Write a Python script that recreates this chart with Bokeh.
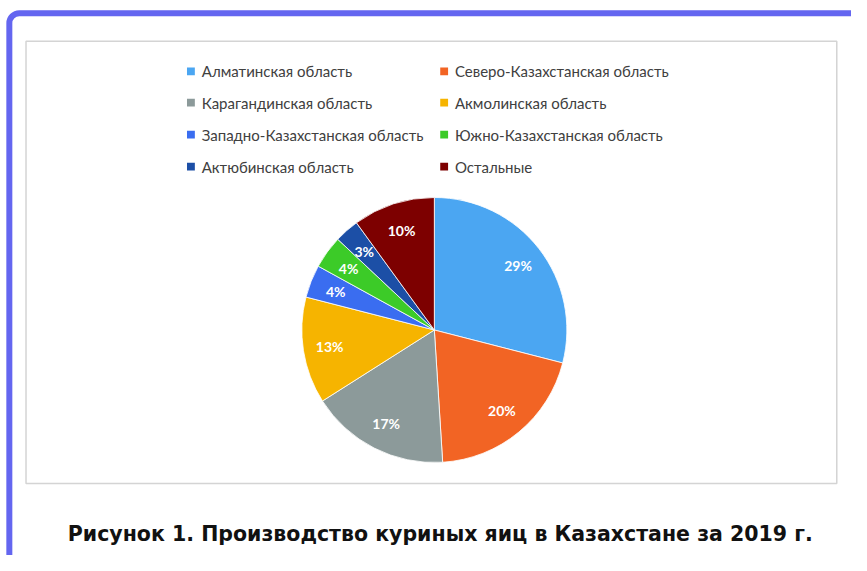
import numpy as np
from bokeh.plotting import figure
from bokeh.models import Range1d, ColumnDataSource, BoxAnnotation
from bokeh.embed import file_html
from bokeh.resources import INLINE
from bokeh.core.properties import value

categories = [
    "Алматинская область",
    "Северо-Казахстанская область",
    "Карагандинская область",
    "Акмолинская область",
    "Западно-Казахстанская область",
    "Южно-Казахстанская область",
    "Актюбинская область",
    "Остальные",
]
shares = [29, 20, 17, 13, 4, 4, 3, 10]
colors = ["#4BA6F2", "#F26424", "#8C9A9A", "#F6B400",
          "#3A6DF0", "#3CCB28", "#1C4FA6", "#7D0000"]
title = "Рисунок 1. Производство куриных яиц в Казахстане за 2019 г."

W, H = 851, 555          # figure size (fits window with 8px margin)
REF_W, REF_H = 867, 571  # layout coordinates


def Y(y):
    return REF_H - y


p = figure(width=W, height=H, x_range=Range1d(0, REF_W), y_range=Range1d(0, REF_H),
           output_backend="svg", toolbar_location=None, x_axis_type=None, y_axis_type=None,
           min_border=0, outline_line_color=None,
           background_fill_color="white", border_fill_color="white")
p.grid.visible = False

# outer blue frame (rounded)
p.add_layout(BoxAnnotation(left=9, right=1000, top=Y(13), bottom=-200,
                           fill_alpha=0, line_color="#6466F0", line_alpha=1, line_width=6,
                           border_radius=10, level="underlay"))
# inner chart box
p.add_layout(BoxAnnotation(left=26, right=852, top=Y(42), bottom=Y(497),
                           fill_color="white", fill_alpha=1,
                           line_color="#D4D4D4", line_alpha=1, line_width=1.5,
                           level="underlay"))

# pie
cx, cy, r = 442, Y(339), 135
vals = np.array(shares, dtype=float)
frac = vals / vals.sum()
cum = np.concatenate([[0], np.cumsum(frac)])
start = np.pi / 2 - 2 * np.pi * cum[:-1]
end = np.pi / 2 - 2 * np.pi * cum[1:]
mid = (start + end) / 2
lf = 0.8
src = ColumnDataSource(dict(start=start, end=end, color=colors,
                            lx=cx + lf * r * np.cos(mid), ly=cy + lf * r * np.sin(mid),
                            lab=[f"{v}%" for v in shares]))
p.wedge(x=cx, y=cy, radius=r, start_angle="start", end_angle="end", direction="clock",
        fill_color="color", line_color="white", line_width=0.8, source=src)
p.text(x="lx", y="ly", text="lab", source=src, text_color="white", text_font=value("Lato"),
       text_font_style="bold", text_font_size="14px", text_align="center", text_baseline="middle")

# legend (two columns, row-wise)
col_x = [194, 452]
row_y = [73, 105, 138, 171]
mx = [col_x[i % 2] for i in range(len(categories))]
my = [Y(row_y[i // 2]) for i in range(len(categories))]
lsrc = ColumnDataSource(dict(mx=mx, my=my, tx=[x + 11 for x in mx], name=categories, color=colors))
p.rect(x="mx", y="my", width=8, height=8, fill_color="color", line_color=None, source=lsrc)
p.text(x="tx", y="my", text="name", source=lsrc, text_color="#404040", text_font=value("Lato"),
       text_font_size="15px", text_baseline="middle")

# caption
p.text(x=[448], y=[Y(549)], text=[title], text_color="#111111", text_font=value("DejaVu Sans"),
       text_font_style="bold", text_font_size="20.5px", text_align="center", text_baseline="middle")

open("out.html", "w").write(file_html(p, INLINE))
